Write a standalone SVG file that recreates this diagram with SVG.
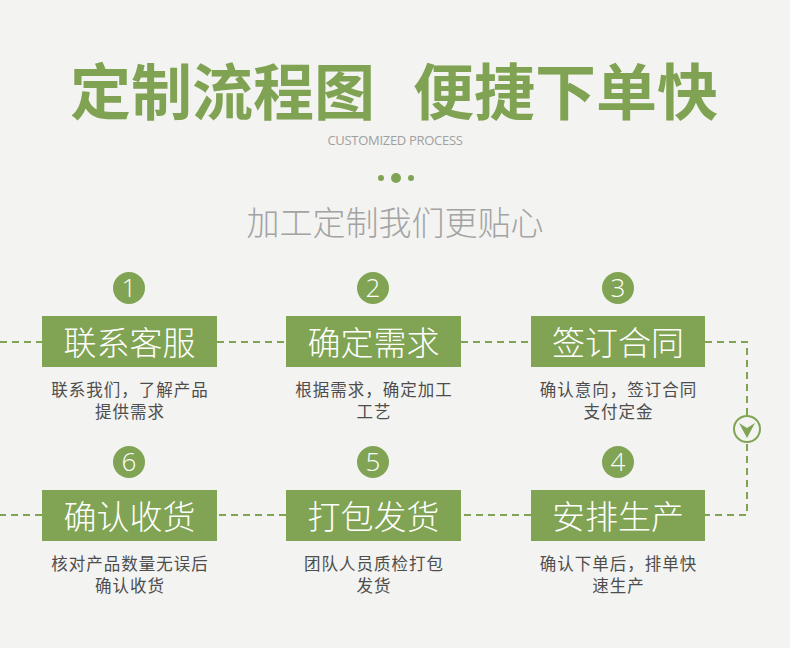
<svg xmlns="http://www.w3.org/2000/svg" width="790" height="648" viewBox="0 0 790 648">
<style>
.title{font-family:"Noto Sans CJK SC","Noto Sans",sans-serif;font-weight:700;font-size:61px;fill:#7fa352}
.sub{font-family:"Open Sans","Liberation Sans",sans-serif;font-size:13px;fill:#a0a0a0;letter-spacing:-0.3px}
.sub2{font-family:"Noto Sans CJK SC",sans-serif;font-weight:300;font-size:33px;fill:#a3a3a3}
.box{fill:#80a453}
.btxt{font-family:"Noto Sans CJK SC",sans-serif;font-weight:300;font-size:33px;fill:#ffffff;text-anchor:middle}
.num{fill:#80a453}
.ntxt{font-family:"Open Sans","Liberation Sans",sans-serif;font-weight:300;font-size:26px;fill:#ffffff;text-anchor:middle}
.desc{font-family:"Noto Sans CJK SC",sans-serif;font-size:16.5px;letter-spacing:1px;fill:#4d4d4d;text-anchor:middle}
.dash{stroke:#80a453;stroke-width:2;stroke-dasharray:7 5;fill:none}
</style>
<rect width="790" height="648" fill="#f3f3f1"/>
<text class="title" x="70" y="115">定制流程图</text>
<text class="title" x="413" y="115">便捷下单快</text>
<text class="sub" x="395" y="145" text-anchor="middle">CUSTOMIZED PROCESS</text>
<circle cx="381" cy="178" r="3" fill="#80a453"/>
<circle cx="396" cy="178" r="5" fill="#80a453"/>
<circle cx="411" cy="178" r="3" fill="#80a453"/>
<text class="sub2" x="395" y="235" text-anchor="middle">加工定制我们更贴心</text>
<g id="connectors">
<path class="dash" d="M0 342 H42 M217 342 H286 M461 342 H531 M705 342 H747 V515 H705 M531 515 H461 M286 515 H217 M42 515 H0"/>
<circle cx="747" cy="429" r="13" fill="#f3f3f1" stroke="#80a453" stroke-width="2"/>
<path d="M739 423 L747 438 L755 423 L747 428 Z" fill="#80a453"/>
</g>
<g id="step1">
<circle class="num" cx="129" cy="288" r="16"/><text class="ntxt" x="129" y="297">1</text>
<rect class="box" x="42" y="316" width="175" height="51"/><text class="btxt" x="129.5" y="355">联系客服</text>
<text class="desc" x="130" y="396">联系我们，了解产品</text><text class="desc" x="130" y="418">提供需求</text>
</g>
<g id="step2">
<circle class="num" cx="373" cy="288" r="16"/><text class="ntxt" x="373" y="297">2</text>
<rect class="box" x="286" y="316" width="175" height="51"/><text class="btxt" x="373.5" y="355">确定需求</text>
<text class="desc" x="374" y="396">根据需求，确定加工</text><text class="desc" x="374" y="418">工艺</text>
</g>
<g id="step3">
<circle class="num" cx="618" cy="288" r="16"/><text class="ntxt" x="618" y="297">3</text>
<rect class="box" x="531" y="316" width="174" height="51"/><text class="btxt" x="618" y="355">签订合同</text>
<text class="desc" x="618.5" y="396">确认意向，签订合同</text><text class="desc" x="618.5" y="418">支付定金</text>
</g>
<g id="step4">
<circle class="num" cx="618" cy="462" r="16"/><text class="ntxt" x="618" y="471">4</text>
<rect class="box" x="531" y="490" width="174" height="51"/><text class="btxt" x="618" y="529">安排生产</text>
<text class="desc" x="618.5" y="570">确认下单后，排单快</text><text class="desc" x="618.5" y="592">速生产</text>
</g>
<g id="step5">
<circle class="num" cx="373" cy="462" r="16"/><text class="ntxt" x="373" y="471">5</text>
<rect class="box" x="286" y="490" width="175" height="51"/><text class="btxt" x="373.5" y="529">打包发货</text>
<text class="desc" x="374" y="570">团队人员质检打包</text><text class="desc" x="374" y="592">发货</text>
</g>
<g id="step6">
<circle class="num" cx="129" cy="462" r="16"/><text class="ntxt" x="129" y="471">6</text>
<rect class="box" x="42" y="490" width="175" height="51"/><text class="btxt" x="129.5" y="529">确认收货</text>
<text class="desc" x="130" y="570">核对产品数量无误后</text><text class="desc" x="130" y="592">确认收货</text>
</g>
</svg>
